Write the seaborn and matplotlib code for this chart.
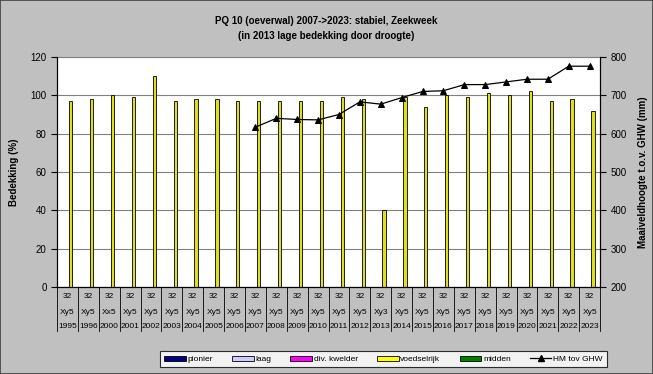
import seaborn as sns
import pandas as pd
import matplotlib.pyplot as plt
from matplotlib.patches import Rectangle
from matplotlib.lines import Line2D

years = ['1995', '1996', '2000', '2001', '2002', '2003', '2004', '2005', '2006',
         '2007', '2008', '2009', '2010', '2011', '2012', '2013', '2014', '2015',
         '2016', '2017', '2018', '2019', '2020', '2021', '2022', '2023']
row1 = ['32'] * len(years)
row2 = ['Xy5', 'Xy5', 'Xx5', 'Xy5', 'Xy5', 'Xy5', 'Xy5', 'Xy5', 'Xy5',
        'Xy5', 'Xy5', 'Xy5', 'Xy5', 'Xy5', 'Xy5', 'Xy3', 'Xy5', 'Xy5',
        'Xy5', 'Xy5', 'Xy5', 'Xy5', 'Xy5', 'Xy5', 'Xy5', 'Xy5']
voedselrijk = [97, 98, 100, 99, 110, 97, 98, 98, 97, 97, 97, 97, 97, 99, 98,
               40, 99, 94, 100, 99, 101, 100, 102, 97, 98, 92]
series = ['pionier', 'laag', 'div. kwelder', 'voedselrijk', 'midden']
colors = ['#000080', '#ccccff', '#ff00ff', '#ffff00', '#008000']
hm_years = ['2007', '2008', '2009', '2010', '2011', '2012', '2013', '2014', '2015',
            '2016', '2017', '2018', '2019', '2020', '2021', '2022', '2023']
hm_tov_ghw = [617, 640, 637, 636, 650, 683, 677, 694, 710, 712, 728, 728,
              735, 742, 742, 776, 776]

rows = []
for s in series:
    for i, y in enumerate(years):
        rows.append({'jaar': y, 'serie': s,
                     'bedekking': voedselrijk[i] if s == 'voedselrijk' else 0})
df = pd.DataFrame(rows)

plt.rcParams['font.family'] = ['Liberation Sans', 'DejaVu Sans']

fig = plt.figure(figsize=(6.53, 3.74), dpi=100, facecolor='#c0c0c0')
fig.patches.append(Rectangle((0, 0), 1, 1, transform=fig.transFigure, fill=False,
                             edgecolor='#404040', linewidth=1.2))
ax = fig.add_axes([0.0873, 0.2326, 0.8317, 0.615])
ax.set_facecolor('white')

sns.barplot(data=df, x='jaar', y='bedekking', hue='serie', hue_order=series,
            palette=colors, width=0.78, edgecolor='black', linewidth=0.6,
            legend=False, ax=ax)

ax.set_ylim(0, 120)
ax.set_xlim(-0.5, len(years) - 0.5)
ax.set_yticks(range(0, 121, 20))
ax.yaxis.grid(True, color='#808080', linewidth=0.8)
ax.set_axisbelow(True)
ax.tick_params(axis='y', labelsize=7, length=4, direction='out')
ax.set_xticks([])
ax.set_xlabel('')
ax.set_ylabel('Bedekking (%)', fontsize=7, fontweight='bold', labelpad=8)
for side in ['left', 'bottom', 'right']:
    ax.spines[side].set_color('black')
ax.spines['top'].set_color('#808080')

# category table under the axis
trans = ax.get_xaxis_transform()
for i in range(len(years)):
    ax.text(i, -0.043, row1[i], transform=trans, ha='center', va='center', fontsize=6)
    ax.text(i, -0.109, row2[i], transform=trans, ha='center', va='center', fontsize=6)
    ax.text(i, -0.17, years[i], transform=trans, ha='center', va='center', fontsize=6)
for i in range(len(years) + 1):
    ax.plot([i - 0.5, i - 0.5], [0, -0.19], transform=trans, color='black',
            linewidth=0.6, clip_on=False)

ax2 = ax.twinx()
hm_x = [years.index(y) for y in hm_years]
sns.lineplot(x=hm_x, y=hm_tov_ghw, ax=ax2, color='black', marker='^',
             markersize=5, markeredgecolor='black', linewidth=0.9)
ax2.set_ylim(200, 800)
ax2.set_yticks(range(200, 801, 100))
ax2.tick_params(axis='y', labelsize=7, length=4, direction='out')
ax2.set_ylabel('Maaiveldhoogte t.o.v. GHW (mm)', fontsize=7, fontweight='bold', labelpad=8)
ax2.spines['right'].set_color('black')
ax2.spines['top'].set_visible(False)

fig.text(0.5, 0.945, 'PQ 10 (oeverwal) 2007->2023: stabiel, Zeekweek',
         ha='center', va='center', fontsize=7, fontweight='bold')
fig.text(0.5, 0.903, '(in 2013 lage bedekking door droogte)',
         ha='center', va='center', fontsize=7, fontweight='bold')

handles = [Rectangle((0, 0), 1, 1, facecolor=c, edgecolor='black', linewidth=0.6)
           for c in colors]
handles.append(Line2D([], [], color='black', marker='^', markersize=4, linewidth=0.9))
leg = fig.legend(handles, series + ['HM tov GHW'], loc='center',
                 bbox_to_anchor=(0.587, 0.039), ncol=6, fontsize=6, frameon=True,
                 fancybox=False, edgecolor='black', handlelength=2.6, handleheight=0.6,
                 columnspacing=2.3, handletextpad=0.2, borderpad=0.5)
leg.get_frame().set_linewidth(0.8)

plt.savefig('out.png', dpi=100, facecolor=fig.get_facecolor())
